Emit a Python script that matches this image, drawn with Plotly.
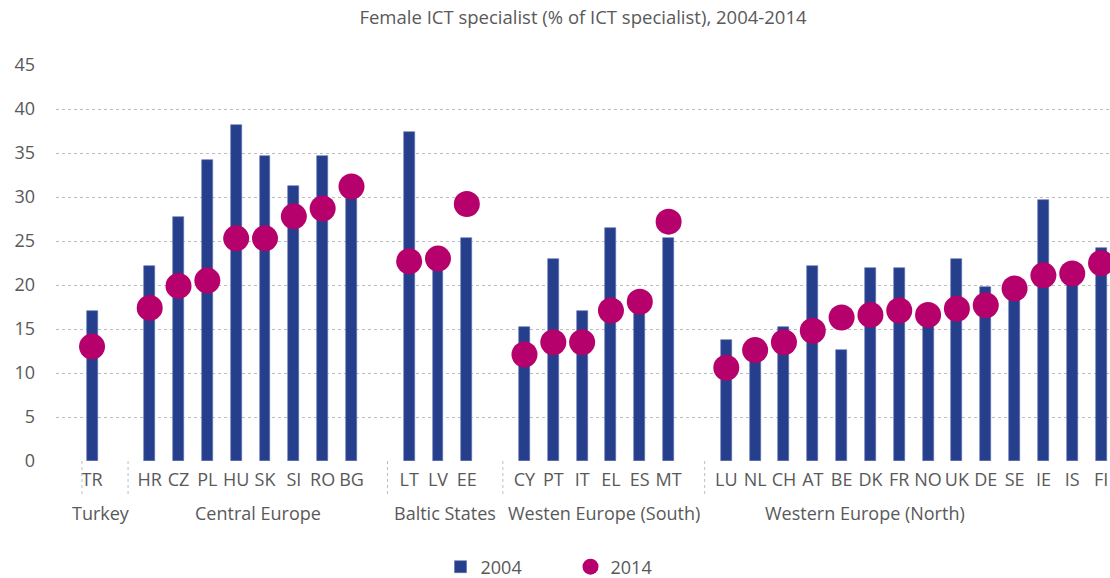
import plotly.graph_objects as go

# ---- data ----
group_names = ["Turkey", "Central Europe", "Baltic States", "Westen Europe (South)", "Western Europe (North)"]
group_codes = [
    ["TR"],
    ["HR", "CZ", "PL", "HU", "SK", "SI", "RO", "BG"],
    ["LT", "LV", "EE"],
    ["CY", "PT", "IT", "EL", "ES", "MT"],
    ["LU", "NL", "CH", "AT", "BE", "DK", "FR", "NO", "UK", "DE", "SE", "IE", "IS", "FI"],
]
val_2004 = [
    [17.1],
    [22.2, 27.7, 34.2, 38.2, 34.7, 31.2, 34.7, 30.0],
    [37.4, 22.0, 25.3],
    [15.2, 23.0, 17.1, 26.5, 17.5, 25.3],
    [13.8, 12.5, 15.2, 22.2, 12.6, 21.9, 21.9, 16.5, 23.0, 19.8, 19.0, 29.7, 20.5, 24.2],
]
val_2014 = [
    [13.0],
    [17.4, 19.9, 20.5, 25.3, 25.3, 27.8, 28.7, 31.2],
    [22.7, 23.0, 29.2],
    [12.1, 13.5, 13.5, 17.1, 18.1, 27.2],
    [10.6, 12.6, 13.5, 14.8, 16.3, 16.6, 17.1, 16.6, 17.3, 17.7, 19.6, 21.1, 21.3, 22.5],
]
y_ticks = [0, 5, 10, 15, 20, 25, 30, 35, 40, 45]

BLUE = "#263F8C"
MAGENTA = "#B6006C"
TEXT = "#595959"
GRID = "#BDBDBD"
FONT = "Open Sans"

# ---- slot positions: one empty slot after each group ----
xs, codes, v04, v14 = [], [], [], []
group_start, group_end = [], []
pos = 0
for cds, a, b in zip(group_codes, val_2004, val_2014):
    group_start.append(pos)
    for c, p, q in zip(cds, a, b):
        xs.append(pos); codes.append(c); v04.append(p); v14.append(q)
        pos += 1
    group_end.append(pos - 1)
    pos += 1

fig = go.Figure()
fig.add_trace(go.Bar(x=xs, y=v04, name="2004", width=0.38,
                     marker=dict(color=BLUE, line=dict(width=0.6, color="#5a6fb0"))))
fig.add_trace(go.Scatter(x=xs, y=v14, name="2014", mode="markers",
                         marker=dict(color=MAGENTA, size=26, line=dict(width=0))))

# group dividers (dotted) and group labels
div_x = [group_start[0] - 0.35] + [s - 0.75 for s in group_start[1:]]
for dx in div_x:
    fig.add_shape(type="line", xref="x", yref="paper", x0=dx, x1=dx, y0=0, y1=-0.09,
                  line=dict(color=GRID, width=1, dash="dot"))
label_x = [(div_x[i] + div_x[i + 1]) / 2 for i in range(len(div_x) - 1)] + [26.8]
label_x[0] -= 0.15
for name, lx in zip(group_names, label_x):
    fig.add_annotation(x=lx, xref="x", y=-0.132, yref="paper", text=name, showarrow=False,
                       xanchor="center", yanchor="middle",
                       font=dict(family=FONT, size=18, color=TEXT))

fig.update_layout(
    width=1110, height=578,
    margin=dict(l=56, r=0, t=65, b=116.5),
    plot_bgcolor="white", paper_bgcolor="white",
    title=dict(text="Female ICT specialist (% of ICT specialist), 2004-2014",
               x=0.5, xref="paper", xanchor="center", y=1 - 18 / 578, yref="container",
               yanchor="middle", font=dict(family=FONT, size=18.5, color=TEXT)),
    font=dict(family=FONT, color=TEXT, size=18),
    showlegend=True,
    legend=dict(orientation="h", x=(440.5 - 56) / 1054, xanchor="left",
                y=(578 - 567) / 578, yref="container", yanchor="middle",
                entrywidth=85, itemsizing="trace",
                font=dict(family=FONT, size=18, color=TEXT)),
    bargap=0,
)
fig.update_xaxes(range=[-1.25, 35.31], tickmode="array", tickvals=xs, ticktext=codes,
                 showgrid=False, zeroline=False, showline=False, ticks="",
                 tickfont=dict(family=FONT, size=18, color=TEXT), tickangle=0,
                 ticklabelstandoff=6)
fig.update_yaxes(range=[0, 45], tickmode="array", tickvals=y_ticks,
                 showgrid=True, gridcolor=GRID, griddash="dot", gridwidth=1,
                 zeroline=False, showline=False, ticks="",
                 tickfont=dict(family=FONT, size=18, color=TEXT),
                 ticklabelstandoff=20)

fig.write_html("out.html", config={"displayModeBar": False},
               post_script="document.body.style.margin='0';document.body.style.overflow='hidden';")
